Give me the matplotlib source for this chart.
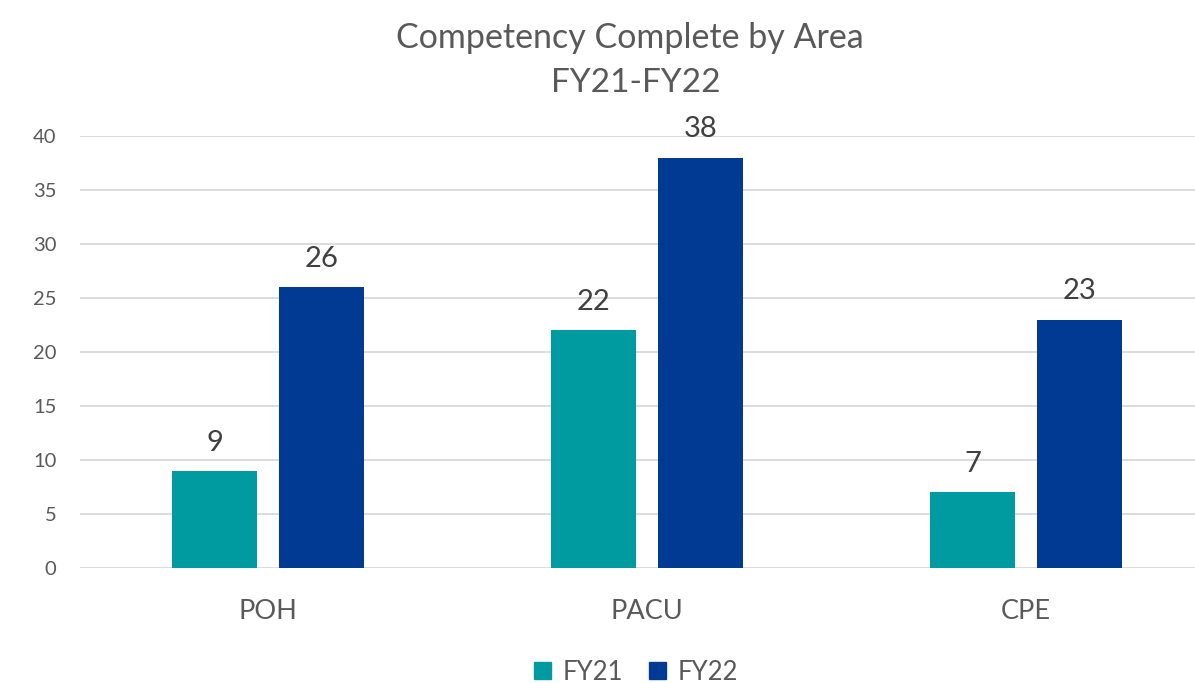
import numpy as np
import matplotlib
matplotlib.use('Agg')
import matplotlib.pyplot as plt
from matplotlib.patches import Patch

areas = ['POH', 'PACU', 'CPE']
fy21 = [9, 22, 7]
fy22 = [26, 38, 23]
series_names = ['FY21', 'FY22']
yticks = [0, 5, 10, 15, 20, 25, 30, 35, 40]

TEAL = '#009BA1'
BLUE = '#003A92'
GREY = '#595959'
DARK = '#404040'
GRID = '#D9D9D9'

plt.rcParams['font.family'] = ['Lato', 'DejaVu Sans']

fig = plt.figure(figsize=(11.95, 6.83), dpi=100)
ax = fig.add_axes([80 / 1195, 1 - 568 / 683, 1 - 80 / 1195, (568 - 136) / 683])

x = np.arange(len(areas))
w = 0.224
off = 0.141
b1 = ax.bar(x - off, fy21, w, color=TEAL, zorder=3)
b2 = ax.bar(x + off, fy22, w, color=BLUE, zorder=3)

for bars, vals in ((b1, fy21), (b2, fy22)):
    for rect, v in zip(bars, vals):
        ax.annotate(str(v), (rect.get_x() + rect.get_width() / 2, v),
                    xytext=(0, 14.5), textcoords='offset points',
                    ha='center', va='baseline', fontsize=21, color=DARK)

ax.set_xlim(-0.496, 2.446)
ax.set_ylim(0, 40)
ax.set_yticks(yticks)
ax.set_xticks(x)
ax.set_xticklabels(areas)
ax.tick_params(axis='y', length=0, pad=17, labelsize=14.5, labelcolor=GREY)
ax.tick_params(axis='x', length=0, pad=22, labelsize=19.5, labelcolor=GREY)
ax.grid(axis='y', color=GRID, linewidth=1.3, zorder=0)
for s in ax.spines.values():
    s.set_visible(False)

fig.text(630 / 1195, 1 - 48 / 683, 'Competency Complete by Area', ha='center',
         va='baseline', fontsize=24.5, color=GREY)
fig.text(636 / 1195, 1 - 92 / 683, 'FY21-FY22', ha='center',
         va='baseline', fontsize=24, color=GREY)

handles = [Patch(color=TEAL), Patch(color=BLUE)]
fig.legend(handles, series_names, loc='center', bbox_to_anchor=(636 / 1195, 1 - 672 / 683),
           ncol=2, frameon=False, fontsize=18.5, labelcolor=GREY,
           handlelength=0.68, handleheight=0.68, handletextpad=0.45, columnspacing=1.0)

fig.savefig('out.png', dpi=100)
